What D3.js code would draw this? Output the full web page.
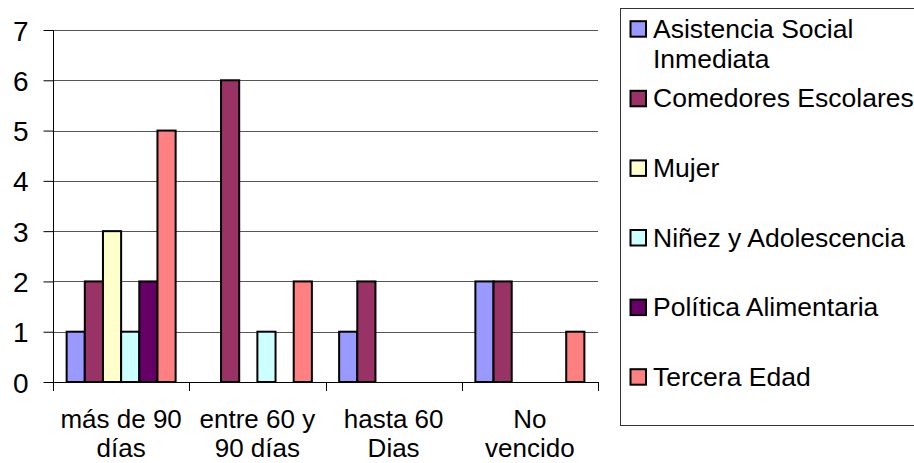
<!DOCTYPE html>
<html><head><meta charset="utf-8">
<script src="https://cdn.jsdelivr.net/npm/d3@7"></script>
<style>
html,body{margin:0;padding:0;background:#fff;}
svg{display:block;font-family:"Liberation Sans",Arial,sans-serif;}
</style></head>
<body>
<svg id="chart" width="914" height="463"></svg>
<script>
const categories = ["más de 90 días","entre 60 y 90 días","hasta 60 Dias","No vencido"];
const categoryLines = [["más de 90","días"],["entre 60 y","90 días"],["hasta 60","Dias"],["No","vencido"]];
const seriesNames = ["Asistencia Social Inmediata","Comedores Escolares","Mujer","Niñez y Adolescencia","Política Alimentaria","Tercera Edad"];
const legendLines = [["Asistencia Social","Inmediata"],["Comedores Escolares"],["Mujer"],["Niñez y Adolescencia"],["Política Alimentaria"],["Tercera Edad"]];
const seriesColors = ["#9999FF","#993366","#FFFFCC","#CCFFFF","#660066","#FF8080"];
const asistencia = [1,0,1,2];
const comedores = [2,6,2,2];
const mujer = [3,0,0,0];
const ninez = [1,1,0,0];
const politica = [2,0,0,0];
const tercera = [5,2,0,1];
const yTicks = [0,1,2,3,4,5,6,7];

const seriesValues = [asistencia,comedores,mujer,ninez,politica,tercera];

const svg = d3.select("#chart");
const L = 53, R = 598, T = 30, B = 382;

const x = d3.scaleBand().domain(categories).range([L,R]).paddingInner(0).paddingOuter(0);
const xs = d3.scaleBand().domain(seriesNames).range([0,x.bandwidth()]).paddingInner(0).paddingOuter(0.75);
const y = d3.scaleLinear().domain([0,7]).range([B,T]);

// gridlines
svg.append("g").selectAll("line").data(yTicks.filter(d=>d>0)).join("line")
  .attr("x1",L).attr("x2",R)
  .attr("y1",d=>Math.round(y(d))+0.5).attr("y2",d=>Math.round(y(d))+0.5)
  .attr("stroke","#555").attr("stroke-width",1);

// bars
const data = [];
categories.forEach((c,ci)=>seriesNames.forEach((s,si)=>{
  const v = seriesValues[si][ci];
  if (v>0) data.push({c,s,v,color:seriesColors[si]});
}));
svg.append("g").selectAll("rect").data(data).join("rect")
  .attr("x",d=>x(d.c)+xs(d.s))
  .attr("y",d=>y(d.v))
  .attr("width",xs.bandwidth())
  .attr("height",d=>y(0)-y(d.v))
  .attr("fill",d=>d.color)
  .attr("stroke","#000").attr("stroke-width",2);

// y axis
const yAxis = d3.axisLeft(y).tickValues(yTicks).tickSize(10).tickPadding(15).tickFormat(d3.format("d"));
const ya = svg.append("g").attr("transform",`translate(${L+0.5},0)`).call(yAxis);
ya.select(".domain").attr("stroke","#000").attr("d",`M0,${T}V${B}`);
ya.selectAll(".tick line").attr("stroke","#000");
ya.selectAll(".tick text").attr("font-size",28).attr("fill","#000")
  .attr("font-family","Liberation Sans, Arial, sans-serif").attr("dy","0.36em");

// x axis
svg.append("line").attr("x1",L).attr("x2",R).attr("y1",B+0.5).attr("y2",B+0.5).attr("stroke","#000");
const bounds = categories.map(c=>x(c)).concat([R]);
svg.append("g").selectAll("line").data(bounds).join("line")
  .attr("x1",d=>Math.round(d)+0.5).attr("x2",d=>Math.round(d)+0.5)
  .attr("y1",B).attr("y2",B+9).attr("stroke","#000");

const xl = svg.append("g").selectAll("text").data(categories).join("text")
  .attr("text-anchor","middle").attr("font-size",26).attr("fill","#000")
  .attr("x",d=>x(d)+x.bandwidth()/2);
xl.each(function(d,i){
  const t = d3.select(this);
  categoryLines[i].forEach((ln,k)=>{
    t.append("tspan").attr("x",x(d)+x.bandwidth()/2).attr("y",428+k*29).text(ln);
  });
});

// legend
svg.append("rect").attr("x",620.5).attr("y",8.5).attr("width",300).attr("height",417)
  .attr("fill","#fff").attr("stroke","#333").attr("stroke-width",1);
const lg = svg.append("g");
seriesNames.forEach((s,i)=>{
  const base = 37.7 + 69.6*i;
  lg.append("rect").attr("x",630.5).attr("y",base-16.5).attr("width",15.5).attr("height",15.5)
    .attr("fill",seriesColors[i]).attr("stroke","#000").attr("stroke-width",2);
  const t = lg.append("text").attr("font-size",26.5).attr("fill","#000");
  legendLines[i].forEach((ln,k)=>{
    t.append("tspan").attr("x",653).attr("y",base+k*30.6).text(ln);
  });
});
</script>
</body></html>
